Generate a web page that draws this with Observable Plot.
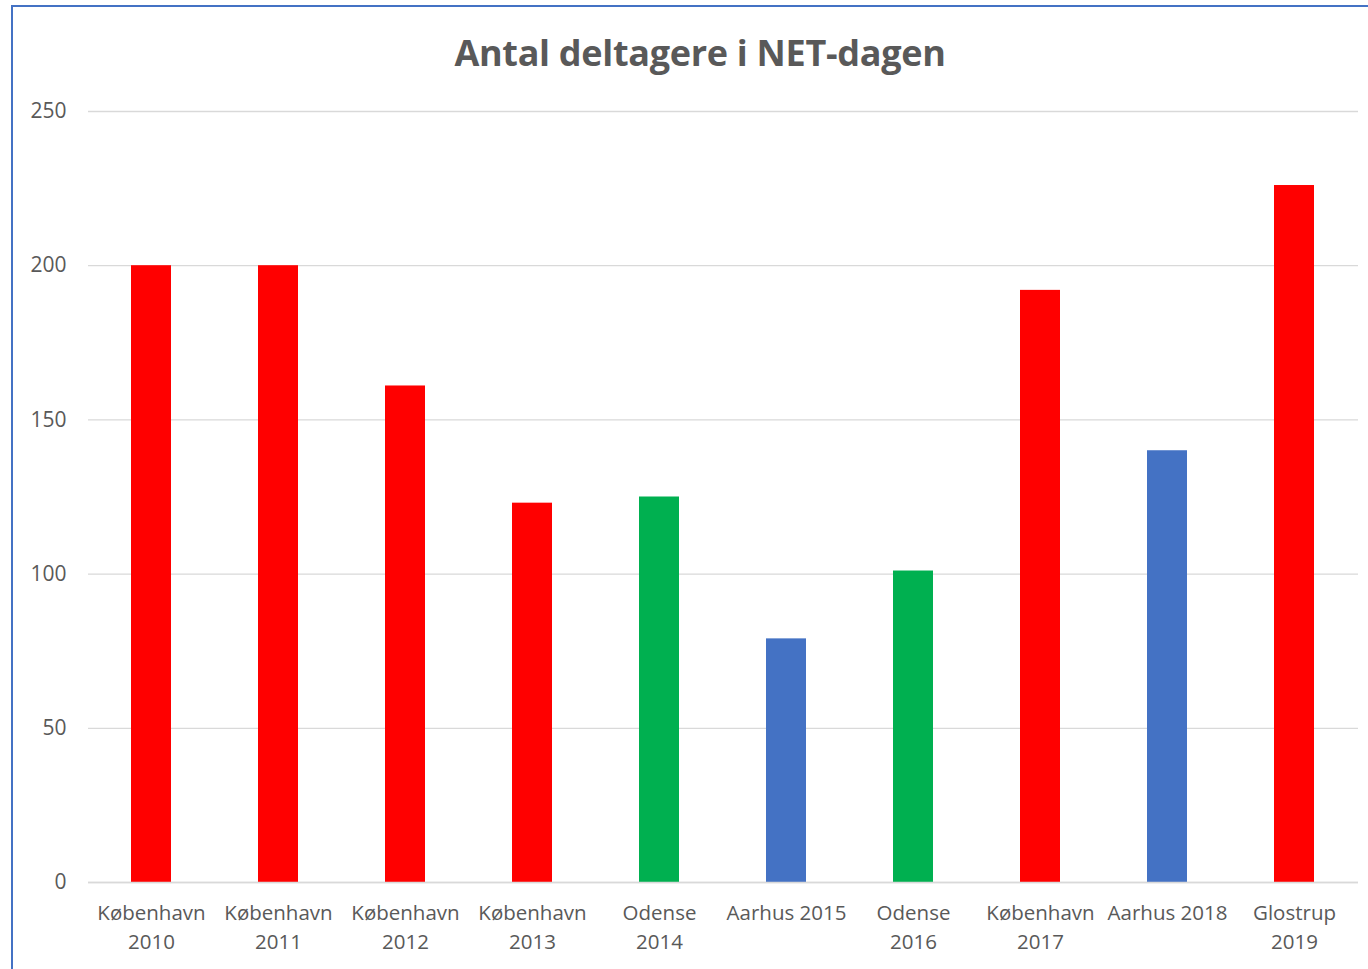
<!DOCTYPE html>
<html>
<head>
<meta charset="utf-8">
<script src="https://cdn.jsdelivr.net/npm/d3@7"></script>
<script src="https://cdn.jsdelivr.net/npm/@observablehq/plot@0.6"></script>
<style>
  html, body { margin: 0; padding: 0; background: #fff; width: 1368px; height: 969px; overflow: hidden; }
  #frame { position: absolute; left: 11px; top: 5px; width: 1378px; height: 990px; border: 2px solid #4472C4; box-sizing: border-box; }
  #title { position: absolute; left: 11px; top: 28px; width: 1378px; text-align: center; font-family: "Open Sans", sans-serif; font-weight: bold; font-size: 36px; color: #595959; letter-spacing: -0.3px; }
  #chart { position: absolute; left: 0; top: 0; }
</style>
</head>
<body>
<div id="frame"></div>
<div id="title">Antal deltagere i NET-dagen</div>
<div id="chart"></div>
<script>
const categories = ["København\n2010", "København\n2011", "København\n2012", "København\n2013", "Odense\n2014", "Aarhus 2015", "Odense\n2016", "København\n2017", "Aarhus 2018", "Glostrup\n2019"];
const cities = ["København", "København", "København", "København", "Odense", "Aarhus", "Odense", "København", "Aarhus", "Glostrup"];
const values = [200, 200, 161, 123, 125, 79, 101, 192, 140, 226];
const yTicks = [0, 50, 100, 150, 200, 250];
const cityColors = { "København": "#FF0000", "Glostrup": "#FF0000", "Odense": "#00B050", "Aarhus": "#4472C4" };

const data = categories.map((c, i) => ({ label: c, city: cities[i], value: values[i] }));

const plot = Plot.plot({
  width: 1368,
  height: 969,
  marginLeft: 88,
  marginRight: 10,
  marginTop: 111,
  marginBottom: 87,
  style: { fontFamily: "Open Sans, sans-serif", fontSize: "20.5px", color: "#595959", background: "transparent", overflow: "visible" },
  x: { domain: categories, paddingInner: 0.685, paddingOuter: 0.3425, label: null },
  y: { domain: [0, 250], label: null },
  marks: [
    Plot.gridY(yTicks, { stroke: "#D9D9D9", strokeOpacity: 1, strokeWidth: 1.3 }),
    Plot.barY(data, { x: "label", y: "value", fill: d => cityColors[d.city] }),
    Plot.ruleY([0], { stroke: "#D9D9D9", strokeWidth: 1.3 }),
    Plot.axisY({ ticks: yTicks, tickSize: 0, tickPadding: 22, fill: "#595959", fontSize: 21, label: null }),
    Plot.axisX({ tickSize: 0, tickPadding: 18, fill: "#595959", fontSize: 20.5, lineHeight: 1.37, label: null })
  ]
});
document.getElementById("chart").appendChild(plot);
</script>
</body>
</html>
